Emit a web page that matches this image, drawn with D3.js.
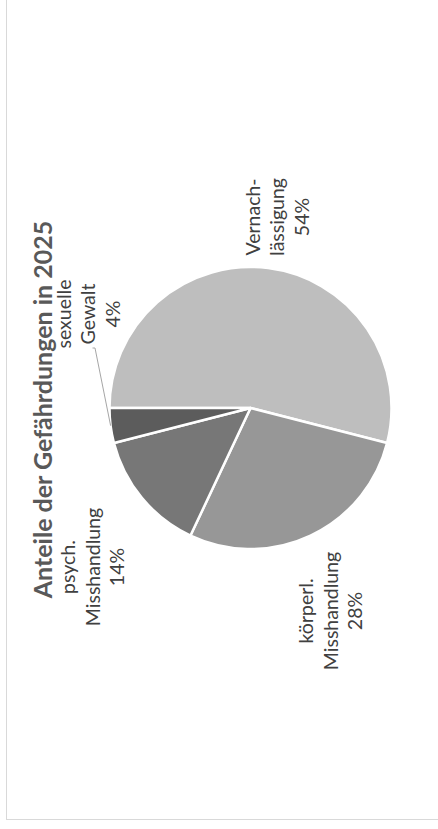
<!DOCTYPE html>
<html>
<head>
<meta charset="utf-8">
<script src="https://cdn.jsdelivr.net/npm/d3@7"></script>
<style>
  html, body { margin: 0; padding: 0; background: #fff; }
  svg { display: block; }
</style>
</head>
<body>
<script>
// ---- data ----
const categories = ["Vernach-lässigung", "körperl. Misshandlung", "psych. Misshandlung", "sexuelle Gewalt"];
const labelLines = [["Vernach-", "lässigung"], ["körperl.", "Misshandlung"], ["psych.", "Misshandlung"], ["sexuelle", "Gewalt"]];
const values = [54, 28, 14, 4];
const colors = ["#bebebe", "#979797", "#777777", "#5c5c5c"];
const title = "Anteile der Gefährdungen in 2025";

// ---- layout ----
const W = 438, H = 829;
const cx = 250.5, cy = 408, R = 141;
// label anchors (screen coords: baseline of middle line, vertical centre)
const labelPos = [[284, 217], [337.5, 611], [99.5, 567], [95, 314]];
const lineH = 24.5;

const svg = d3.select("body").append("svg").attr("width", W).attr("height", H);

// frame
svg.append("rect").attr("x", 6.5).attr("y", -10).attr("width", 460).attr("height", 829.5)
  .attr("fill", "#fff").attr("stroke", "#d9d9d9").attr("stroke-width", 1);

const pie = d3.pie().sort(null).value(d => d)
  .startAngle(-Math.PI / 2).endAngle(3 * Math.PI / 2);
const arcs = pie(values);
const arc = d3.arc().innerRadius(0).outerRadius(R);
const edgeArc = d3.arc().innerRadius(R).outerRadius(R);

const g = svg.append("g").attr("transform", `translate(${cx},${cy})`);
g.selectAll("path").data(arcs).enter().append("path")
  .attr("d", arc)
  .attr("fill", (d, i) => colors[i])
  .attr("stroke", "#fff").attr("stroke-width", 2.5).attr("stroke-linejoin", "round");

// leader line for smallest slice
const sIdx = 3;
const endPt = edgeArc.centroid(arcs[sIdx]);
const lp = labelPos[sIdx];
svg.append("path")
  .attr("d", `M${lp[0] - 2.5},${lp[1] + 34}L${lp[0]},${lp[1] + 34}L${cx + endPt[0]},${cy + endPt[1]}`)
  .attr("fill", "none").attr("stroke", "#a6a6a6").attr("stroke-width", 1);

// labels (rotated)
arcs.forEach((a, i) => {
  const lines = labelLines[i].concat([values[i] + "%"]);
  const t = svg.append("text")
    .attr("transform", `translate(${labelPos[i][0]},${labelPos[i][1]}) rotate(-90)`)
    .attr("text-anchor", "middle")
    .attr("font-family", "Lato, 'Open Sans', sans-serif")
    .attr("font-size", 19.5)
    .attr("fill", "#404040");
  lines.forEach((ln, j) => {
    t.append("tspan").attr("x", 0).attr("y", (j - 1) * lineH).text(ln);
  });
});

// title
svg.append("text")
  .attr("transform", `translate(51.5,409.5) rotate(-90)`)
  .attr("text-anchor", "middle")
  .attr("font-family", "Lato, 'Open Sans', sans-serif")
  .attr("font-weight", "bold")
  .attr("font-size", 25)
  .attr("fill", "#595959")
  .text(title);
</script>
</body>
</html>
